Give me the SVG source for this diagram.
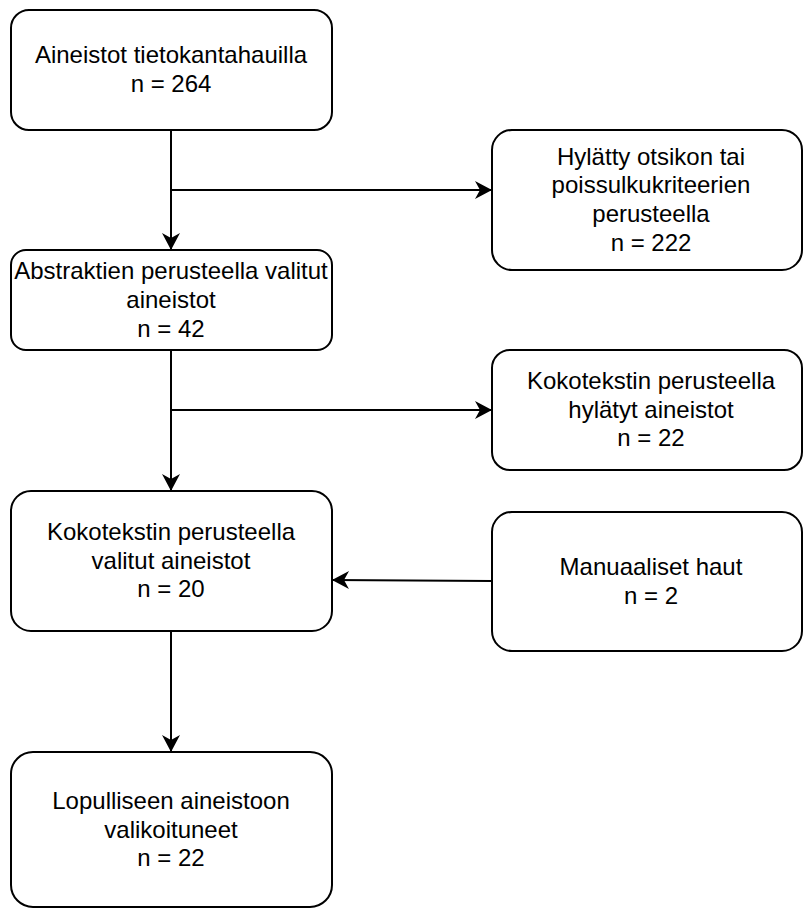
<svg xmlns="http://www.w3.org/2000/svg" width="803" height="909" viewBox="0 0 803 909">
<style>
.box{fill:#ffffff;stroke:#000000;stroke-width:2}
.t{font-family:"Liberation Sans",Arial,Helvetica,sans-serif;font-size:24px;fill:#000000;text-anchor:middle}
.c{fill:none;stroke:#000000;stroke-width:2}
</style>
<defs>
<marker id="arr" markerUnits="userSpaceOnUse" markerWidth="20" markerHeight="20" viewBox="-18 -10 20 20" refX="0" refY="0" orient="auto">
<path d="M0,0 L-17,-9 L-12,0 L-17,9 Z" fill="#000000" stroke="none"/>
</marker>
</defs>
<rect x="0" y="0" width="803" height="909" fill="#ffffff"/>
<g id="connectors">
<path class="c" d="M171,130 L171,250" marker-end="url(#arr)"/>
<path class="c" d="M171,190 L492,190" marker-end="url(#arr)"/>
<path class="c" d="M171,350 L171,491" marker-end="url(#arr)"/>
<path class="c" d="M171,410 L492,410" marker-end="url(#arr)"/>
<path class="c" d="M492,581 L332,580" marker-end="url(#arr)"/>
<path class="c" d="M171,631 L171,752" marker-end="url(#arr)"/>
</g>
<g id="n1">
<rect class="box" x="11" y="10" width="321" height="120" rx="18"/>
<text class="t" x="171" y="63">Aineistot tietokantahauilla</text>
<text class="t" x="171" y="92">n = 264</text>
</g>
<g id="n2">
<rect class="box" x="492" y="130" width="310" height="140" rx="20"/>
<text class="t" x="651" y="164.5">Hylätty otsikon tai</text>
<text class="t" x="651" y="193.3">poissulkukriteerien</text>
<text class="t" x="651" y="222">perusteella</text>
<text class="t" x="651" y="251">n = 222</text>
</g>
<g id="n3">
<rect class="box" x="11" y="250" width="321" height="100" rx="15"/>
<text class="t" x="171" y="279">Abstraktien perusteella valitut</text>
<text class="t" x="171" y="308">aineistot</text>
<text class="t" x="171" y="337">n = 42</text>
</g>
<g id="n4">
<rect class="box" x="492" y="350" width="310" height="120" rx="18"/>
<text class="t" x="651" y="389">Kokotekstin perusteella</text>
<text class="t" x="651" y="417.6">hylätyt aineistot</text>
<text class="t" x="651" y="446.4">n = 22</text>
</g>
<g id="n5">
<rect class="box" x="11" y="491" width="321" height="140" rx="20"/>
<text class="t" x="171" y="540">Kokotekstin perusteella</text>
<text class="t" x="171" y="568.6">valitut aineistot</text>
<text class="t" x="171" y="597.4">n = 20</text>
</g>
<g id="n6">
<rect class="box" x="492" y="512" width="310" height="139" rx="20"/>
<text class="t" x="651" y="574.7">Manuaaliset haut</text>
<text class="t" x="651" y="603.5">n = 2</text>
</g>
<g id="n7">
<rect class="box" x="11" y="752" width="321" height="155" rx="22"/>
<text class="t" x="171" y="809">Lopulliseen aineistoon</text>
<text class="t" x="171" y="837.6">valikoituneet</text>
<text class="t" x="171" y="866.4">n = 22</text>
</g>
</svg>
